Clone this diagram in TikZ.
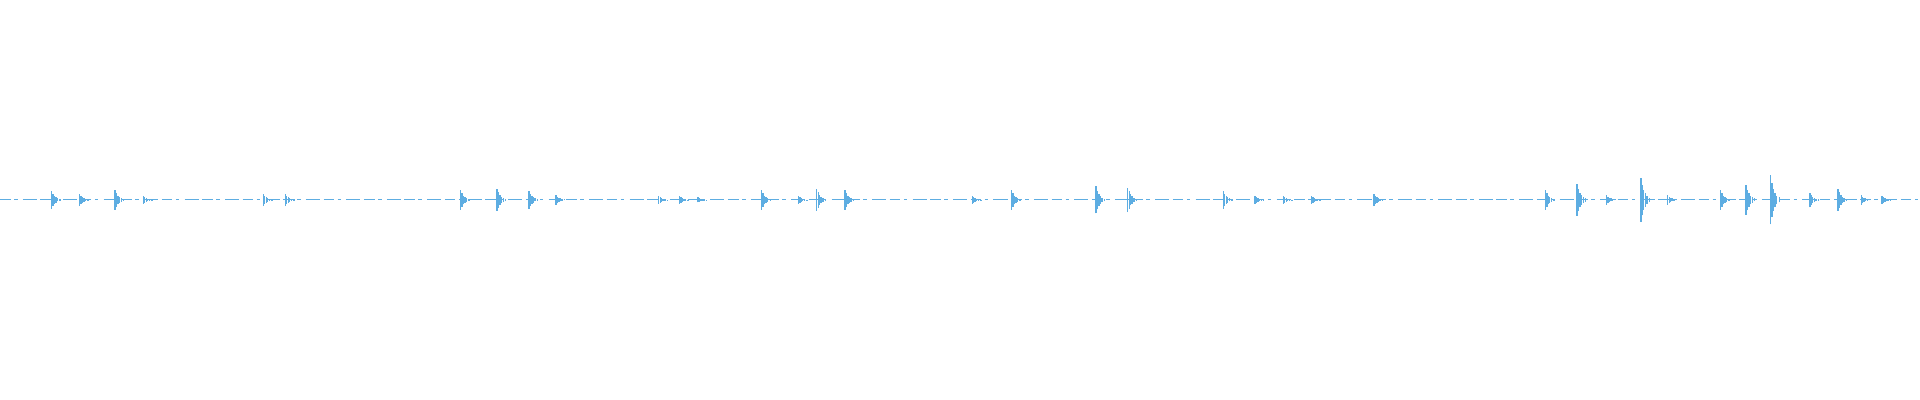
\documentclass[tikz,border=0pt]{standalone}
\begin{document}
\begin{tikzpicture}[x=0.012245cm,y=0.012245cm]
\useasboundingbox[fill=white] (0,0) rectangle (1568,326.6);
\definecolor{wv}{HTML}{5DADE2}
\draw[wv,line width=0.3pt,dash pattern=on 3pt off 1pt on 1pt off 1.5pt on 4pt off 1pt] (0,163.3) -- (1568,163.3);
\foreach \x/\h in {42/7,65/5,94/8,117/3,215/5,233/5,376/8,406/9,432/7,454/4,538/3,555/3,570/2,622/8,652/3,667/9,690/8,794/3,826/8,895/11,921/10,999/7,1025/3,1048/3,1071/3,1122/5,1262/8,1288/13,1312/4,1340/18,1362/4,1405/8,1426/12,1446/20,1478/6,1501/9,1520/4,1537/3}{
  \draw[wv,line width=0.4pt] (\x,163.3-\h) -- (\x,163.3+\h);
  \draw[wv,line width=0.4pt] (\x+1.2,163.3-0.7*\h) -- (\x+1.2,163.3+0.7*\h);
  \draw[wv,line width=0.4pt] (\x+2.4,163.3-0.45*\h) -- (\x+2.4,163.3+0.45*\h);
  \draw[wv,line width=0.4pt] (\x+3.6,163.3-0.3*\h) -- (\x+3.6,163.3+0.3*\h);
  \draw[wv,line width=0.4pt] (\x+5,163.3-0.18*\h) -- (\x+5,163.3+0.18*\h);
  \draw[wv,line width=0.4pt] (\x+7,163.3-0.1*\h) -- (\x+7,163.3+0.1*\h);
}
\end{tikzpicture}
\end{document}
